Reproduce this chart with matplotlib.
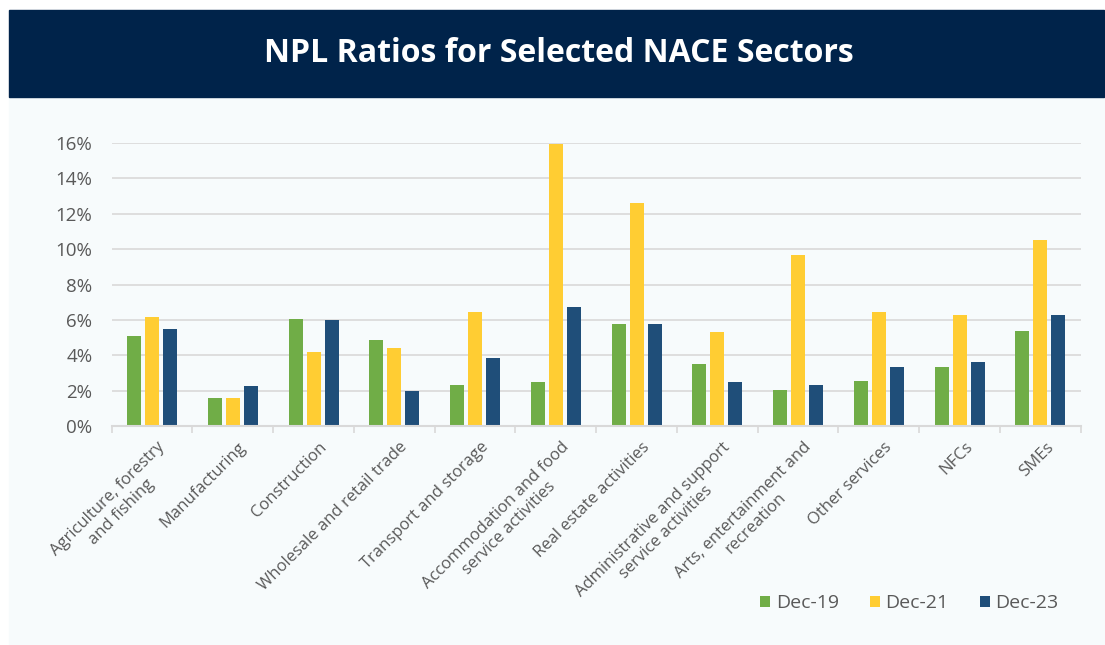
import numpy as np
import matplotlib
matplotlib.use("Agg")
import matplotlib.pyplot as plt
from matplotlib.patches import Rectangle
from matplotlib.ticker import FuncFormatter, MultipleLocator
import matplotlib.transforms as mtransforms

# sectors and NPL ratios (%)
sectors = [
    "Agriculture, forestry\nand fishing",
    "Manufacturing",
    "Construction",
    "Wholesale and retail trade",
    "Transport and storage",
    "Accommodation and food\nservice activities",
    "Real estate activities",
    "Administrative and support\nservice activities",
    "Arts, entertainment and\nrecreation",
    "Other services",
    "NFCs",
    "SMEs",
]
dec19 = [5.10, 1.60, 6.06, 4.87, 2.33, 2.50, 5.78, 3.52, 2.05, 2.56, 3.35, 5.38]
dec21 = [6.18, 1.60, 4.20, 4.43, 6.45, 15.96, 12.62, 5.33, 9.68, 6.45, 6.28, 10.53]
dec23 = [5.50, 2.27, 6.02, 1.98, 3.86, 6.75, 5.78, 2.50, 2.33, 3.35, 3.63, 6.28]
series_names = ["Dec-19", "Dec-21", "Dec-23"]
series_colors = ["#70AD47", "#FFCD33", "#1F4E79"]

plt.rcParams["font.family"] = ["Open Sans", "DejaVu Sans"]
text_grey = "#595959"
grid_grey = "#D9D9D9"

W, H = 1105, 645
fig = plt.figure(figsize=(W / 100, H / 100), dpi=100)
fig.patch.set_facecolor("white")

def px_rect(x0, y0, x1, y1):
    # pixel box (from top-left) -> figure fraction
    return (x0 / W, 1 - y1 / H), (x1 - x0) / W, (y1 - y0) / H

xy, w, h = px_rect(9, 97, 1104, 645)
fig.add_artist(Rectangle(xy, w, h, transform=fig.transFigure, color="#F7FBFC", zorder=0))
xy, w, h = px_rect(9, 10, 1104, 97)
fig.add_artist(Rectangle(xy, w, h, transform=fig.transFigure, color="#00234A", zorder=0))

fig.text(0.506, 1 - 53 / H, "NPL Ratios for Selected NACE Sectors", color="white",
         fontsize=23, fontweight="bold", ha="center", va="center")

ax_left, ax_right, ax_bottom, ax_top = 111.7, 1080.7, 426, 143
ax = fig.add_axes([ax_left / W, 1 - ax_bottom / H, (ax_right - ax_left) / W, (ax_bottom - ax_top) / H])
ax.set_facecolor("none")

x = np.arange(len(sectors))
bar_w = 0.173
step = 0.223
for k, (vals, name, col) in enumerate(zip([dec19, dec21, dec23], series_names, series_colors)):
    ax.bar(x + (k - 1) * step, vals, width=bar_w, color=col, label=name, zorder=3)

ax.set_xlim(-0.5, len(sectors) - 0.5)
ax.set_ylim(0, 16)
ax.yaxis.set_major_locator(MultipleLocator(2))
ax.yaxis.set_major_formatter(FuncFormatter(lambda v, p: f"{v:.0f}%"))
ax.grid(axis="y", color=grid_grey, linewidth=1.2, zorder=0)
for s in ["top", "right", "left"]:
    ax.spines[s].set_visible(False)
ax.spines["bottom"].set_color(grid_grey)
ax.spines["bottom"].set_linewidth(1.5)
ax.spines["bottom"].set_zorder(4)

ax.tick_params(axis="y", length=0, pad=14, labelsize=13.5, labelcolor=text_grey)

# category boundaries get the tick marks, labels sit at the centres
ax.set_xticks(np.arange(-0.5, len(sectors)), minor=True)
ax.tick_params(axis="x", which="minor", length=5, width=1.2, color=grid_grey)
ax.set_xticks(x)
ax.set_xticklabels(sectors)
ax.tick_params(axis="x", which="major", length=0, pad=0, labelsize=12, labelcolor=text_grey)
offset = mtransforms.ScaledTranslation(5 / 100, -13 / 100, fig.dpi_scale_trans)
for lab in ax.get_xticklabels():
    lab.set_rotation(45)
    lab.set_rotation_mode("anchor")
    lab.set_ha("right")
    lab.set_va("top")
    lab.set_multialignment("center")
    lab.set_transform(lab.get_transform() + offset)

fig.legend(loc="center", bbox_to_anchor=(0.823, 1 - 603 / H), ncol=3, frameon=False,
           fontsize=14, labelcolor=text_grey, handlelength=0.5, handleheight=0.5,
           handletextpad=0.3, columnspacing=1.6, borderpad=0)

fig.savefig("out.png", dpi=100)
